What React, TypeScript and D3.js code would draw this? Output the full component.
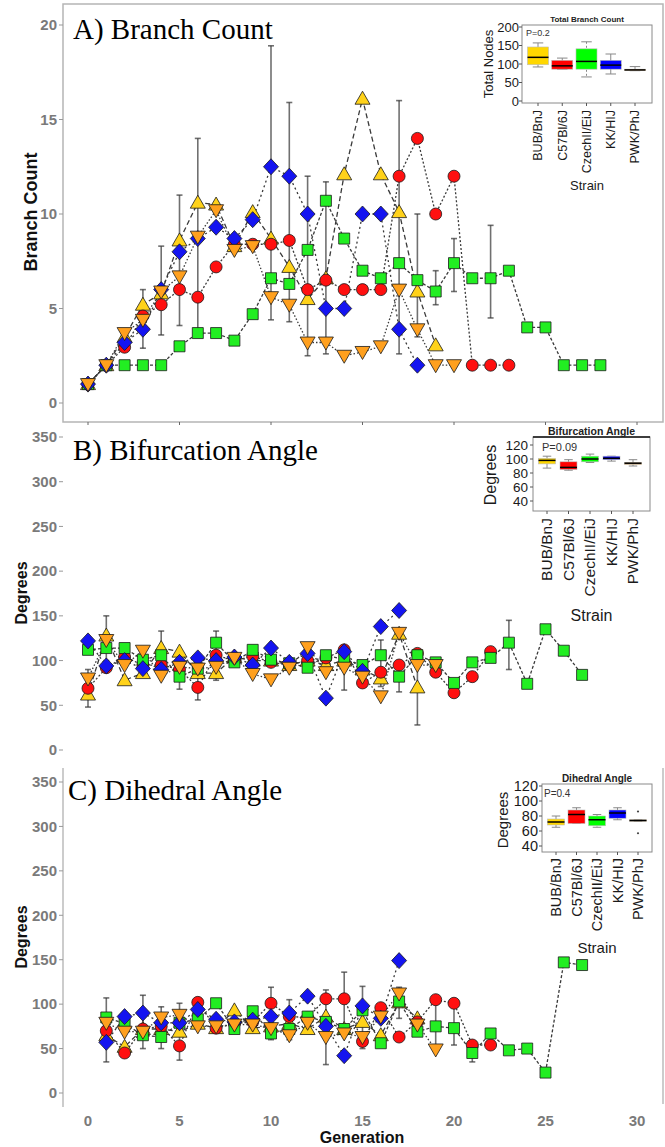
import React from 'react';
import * as d3 from 'd3';

const strains = ['BUB/BnJ', 'C57Bl/6J', 'CzechII/EiJ', 'KK/HIJ', 'PWK/PhJ'];
const genTicks = [0, 5, 10, 15, 20, 25, 30];

// A) Branch count per generation (index = generation)
const branchBUB = [1, 2, 3.5, 5.2, 5.8, 8.6, 10.6, 10.5, 8.3, 10.1, 8.7, 7.2, 5.5, 6.6, 12.1, 16.1, 12.1, 10.1, 5.9, 3.05];
const branchC57 = [1, 2, 2.95, 4.6, 5.2, 6.0, 5.6, 7.2, 8.4, 8.4, 8.4, 8.6, 6.0, 6.5, 6.0, 6.0, 6.0, 12, 14, 10, 12, 2, 2, 2];
const branchCZ = [1, 2, 2, 2, 2, 3, 3.7, 3.7, 3.3, 4.7, 6.6, 6.3, 8.1, 10.7, 8.7, 7.0, 6.6, 7.4, 6.5, 5.9, 7.4, 6.6, 6.6, 7.0, 4, 4, 2, 2, 2];
const branchKK = [1, 2, 3.2, 3.9, 6, 8, 8.7, 9.3, 8.7, 9.7, 12.5, 12, 10, 5, 5, 10, 10, 3.9, 2];
const branchPWK = [1, 2, 3.7, 4.4, 5.9, 6.7, 8.8, 10.2, 8.1, 8.3, 5.6, 5.2, 3.2, 3.2, 2.5, 2.7, 3.0, 6.0, 3.9, 2, 2];
// error bars: [strain index, generation, low, high]
const branchErr = [
  [0, 3, 2.9, 6], [1, 4, 3.6, 8.3], [0, 5, 4.1, 11], [0, 6, 3.7, 14], [3, 10, 4.4, 18.9],
  [3, 11, 4.3, 15.9], [3, 12, 2.5, 12], [4, 13, 2.6, 11.7], [0, 17, 2.6, 16], [1, 18, 3.5, 10],
  [2, 19, 5.2, 7], [2, 20, 5.9, 8.7], [2, 22, 4.5, 9.4],
];

// B) Bifurcation angle per generation
const bifBUB = [62, 128, 78, 86, 114, 110, 86, 86, 104, 100, 100, 95, 100, 95, 100, 90, 80, 130, 70];
const bifC57 = [69, 92, 104, 95, 95, 90, 70, 106, 100, 105, 98, 95, 100, 103, 112, 75, 87, 95, 108, 87, 64, 82, 110];
const bifCZ = [112, 114, 114, 101, 106, 82, 91, 120, 98, 112, 101, 97, 92, 106, 101, 95, 106, 82, 106, 98, 75, 98, 103, 120, 74, 135, 111, 84];
const bifKK = [122, 94, 100, 91, 90, 98, 103, 100, 104, 95, 114, 98, 108, 58, 110, 88, 138, 156];
const bifPWK = [80, 123, 95, 111, 83, 93, 91, 93, 103, 85, 79, 92, 115, 87, 92, 82, 60, 131, 95, 95];
const bifErr = [
  [1, 0, 48, 90], [4, 1, 100, 150], [0, 4, 100, 133], [2, 5, 68, 92], [1, 6, 56, 84],
  [2, 7, 78, 133], [4, 14, 67, 108], [1, 16, 71, 123], [2, 17, 65, 100], [0, 18, 28, 110], [2, 23, 90, 145],
];

// C) Dihedral angle per generation (starts at generation 1)
const dihBUB = [null, 65, 52, 72, 72, 69, 78, 73, 93, 73, 75, 78, 72, 86, 72, 80, 65, 102, 84];
const dihC57 = [null, 70, 45, 72, 75, 53, 102, 73, 78, 80, 101, 86, 85, 106, 106, 58, 96, 63, 80, 105, 101, 54, 54];
const dihCZ = [null, 85, 78, 65, 63, 79, 83, 101, 72, 92, 67, 72, 86, 80, 72, 93, 56, 103, 69, 75, 73, 45, 67, 48, 50, 23, 147, 144];
const dihKK = [null, 57, 86, 90, 79, 79, 94, 83, 80, 82, 86, 90, 109, 75, 42, 98, 84, 149];
const dihPWK = [null, 79, 69, 69, 85, 88, 75, 75, 77, 77, 73, 65, 79, 63, 67, 63, 86, 112, 77, 49];
const dihErr = [
  [3, 1, 35, 107], [0, 3, 50, 110], [2, 4, 50, 97], [1, 5, 37, 101], [1, 10, 60, 119],
  [3, 11, 60, 105], [4, 13, 32, 116], [1, 14, 66, 136], [0, 15, 50, 120], [0, 17, 84, 119],
  [2, 19, 49, 105], [2, 20, 54, 96], [2, 21, 35, 55],
];

// inset boxplots: [low whisker, q1, median, q3, high whisker]
const branchBox = [[92, 98, 118, 146, 157], [86, 86, 95, 110, 116], [65, 86, 107, 141, 160], [73, 86, 97, 110, 127], [82, 82, 84, 86, 93]];
const bifBox = [[87, 93, 98, 101, 104], [84, 85, 88, 96, 99], [95, 96, 100, 104, 107], [97, 99, 101, 104, 104], [90, 92, 94, 95, 99]];
const dihBox = [[65, 68, 72, 76, 80], [70, 70, 82, 88, 91], [65, 67, 75, 80, 82], [75, 77, 84, 88, 91], [73, 73, 74, 75, 75]];
const dihOutliers = [[], [], [], [], [86, 57]];

const fills = ['#FFD21A', '#FF1010', '#22EE22', '#1414F0', '#FFA01E'];
const boxFills = ['#FFD700', '#FF0000', '#00FF00', '#0000FF', '#E8A33C'];
const dashes = ['5,3', '2,2', '3,2', '2,3', '1.5,2'];
const sans = "'Liberation Sans', Arial, sans-serif";
const serif = "'Liberation Serif', 'Times New Roman', serif";

const x = d3.scaleLinear().domain([0, 30]).range([88, 637]);

function markerPath(k: number, cx: number, cy: number) {
  switch (k) {
    case 0: return `M${cx},${cy - 7.5}L${cx + 7.5},${cy + 5.5}L${cx - 7.5},${cy + 5.5}Z`;
    case 1: return `M${cx - 6},${cy}a6,6 0 1,0 12,0a6,6 0 1,0 -12,0Z`;
    case 2: return `M${cx - 5.5},${cy - 5.5}h11v11h-11Z`;
    case 3: return `M${cx},${cy - 8}L${cx + 7.5},${cy}L${cx},${cy + 8}L${cx - 7.5},${cy}Z`;
    default: return `M${cx},${cy + 7.5}L${cx + 7.5},${cy - 5.5}L${cx - 7.5},${cy - 5.5}Z`;
  }
}

type TrendProps = {
  series: (number | null)[][];
  errs: number[][];
  y: d3.ScaleLinear<number, number>;
  ticks: number[];
  title: string;
  titleX: number;
  titleY: number;
  axisLabel: string;
  labelX: number;
  labelY: number;
  labelSize: number;
};

function TrendPanel({ series, errs, y, ticks, title, titleX, titleY, axisLabel, labelX, labelY, labelSize }: TrendProps) {
  const line = d3
    .line<number | null>()
    .defined((d) => d != null)
    .x((_, i) => x(i))
    .y((d) => y(d as number));
  return (
    <g>
      {ticks.map((t) => (
        <g key={t}>
          <line x1={59} x2={63} y1={y(t)} y2={y(t)} stroke="#999" />
          <text x={57} y={y(t)} dy="0.35em" textAnchor="end" fontFamily={sans} fontWeight="bold" fontSize={15} fill="#7a7a7a">{t}</text>
        </g>
      ))}
      <text transform={`translate(${labelX},${labelY}) rotate(-90)`} dy="0.35em" textAnchor="middle" fontFamily={sans} fontWeight="bold" fontSize={labelSize} fill="#111">{axisLabel}</text>
      <text x={titleX} y={titleY} fontFamily={serif} fontSize={29} fill="#000">{title}</text>
      {series.map((s, k) => (
        <path key={k} d={line(s) || ''} fill="none" stroke="#3a3a3a" strokeWidth={1.3} strokeDasharray={dashes[k]} />
      ))}
      {errs.map(([k, g, lo, hi], i) => (
        <g key={i} stroke="#333" strokeOpacity={0.7} strokeWidth={1.6}>
          <line x1={x(g)} x2={x(g)} y1={y(lo)} y2={y(hi)} />
          <line x1={x(g) - 3} x2={x(g) + 3} y1={y(lo)} y2={y(lo)} />
          <line x1={x(g) - 3} x2={x(g) + 3} y1={y(hi)} y2={y(hi)} />
        </g>
      ))}
      {series.map((s, k) =>
        s.map((v, i) =>
          v == null ? null : (
            <path key={`${k}-${i}`} d={markerPath(k, x(i), y(v))} fill={fills[k]} stroke="#1a1a1a" strokeWidth={0.8} />
          )
        )
      )}
    </g>
  );
}

type InsetProps = {
  box: number[][];
  outliers?: number[][];
  frame: [number, number, number, number];
  yDomain: [number, number];
  yRange: [number, number];
  ticks: number[];
  centers: [number, number];
  boxW: number;
  font: number;
  tickFont: number;
  tickEnd: number;
  title: string;
  titleY: number;
  titleSize: number;
  p: string;
  pX: number;
  pY: number;
  pSize: number;
  yLabel: string;
  yLabelX: number;
  yLabelY: number;
  catTop: number;
  strainY: number;
  darkTop?: boolean;
};

function BoxInset(props: InsetProps) {
  const { box, outliers, frame, yDomain, yRange, ticks, centers, boxW, font, tickFont, tickEnd, title, titleY, titleSize, p, pX, pY, pSize, yLabel, yLabelX, yLabelY, catTop, strainY, darkTop } = props;
  const [x0, x1, y0, y1] = frame;
  const y = d3.scaleLinear().domain(yDomain).range(yRange);
  const bx = d3.scalePoint<string>().domain(strains).range(centers);
  const midX = (x0 + x1) / 2;
  return (
    <g fontFamily={sans}>
      <rect x={x0} y={y0} width={x1 - x0} height={y1 - y0} fill="#fff" stroke="#8a8a8a" strokeWidth={1} />
      {darkTop && <line x1={x0} x2={x1} y1={y0} y2={y0} stroke="#111" strokeWidth={1.5} />}
      <text x={midX} y={titleY} textAnchor="middle" fontWeight="bold" fontSize={titleSize} fill="#222">{title}</text>
      <text x={pX} y={pY} fontSize={pSize} fill="#333">{p}</text>
      {ticks.map((t) => (
        <g key={t}>
          <line x1={x0 - 3} x2={x0} y1={y(t)} y2={y(t)} stroke="#555" />
          <text x={tickEnd} y={y(t)} dy="0.35em" textAnchor="end" fontSize={tickFont} fill="#1a1a1a">{t}</text>
        </g>
      ))}
      <text transform={`translate(${yLabelX},${yLabelY}) rotate(-90)`} dy="0.35em" textAnchor="middle" fontSize={font + 0.5} fill="#1a1a1a">{yLabel}</text>
      {strains.map((s, k) => {
        const cx = bx(s) as number;
        const [lo, q1, md, q3, hi] = box[k];
        return (
          <g key={s}>
            <line x1={cx} x2={cx} y1={y1} y2={y1 + 3} stroke="#555" />
            <line x1={cx} x2={cx} y1={y(hi)} y2={y(lo)} stroke="#888" strokeDasharray={k === 2 ? '2,2' : undefined} />
            <line x1={cx - boxW / 4} x2={cx + boxW / 4} y1={y(hi)} y2={y(hi)} stroke="#888" />
            <line x1={cx - boxW / 4} x2={cx + boxW / 4} y1={y(lo)} y2={y(lo)} stroke="#888" />
            <rect x={cx - boxW / 2} y={y(q3)} width={boxW} height={Math.max(y(q1) - y(q3), 1.5)} fill={boxFills[k]} stroke="#bbb" strokeWidth={0.6} />
            <line x1={cx - boxW / 2} x2={cx + boxW / 2} y1={y(md)} y2={y(md)} stroke="#000" strokeWidth={1.5} />
            {(outliers ? outliers[k] : []).map((o, j) => (
              <circle key={j} cx={cx} cy={y(o)} r={1.1} fill="#444" />
            ))}
            <text transform={`translate(${cx},${catTop}) rotate(-90)`} dy="0.35em" textAnchor="end" fontSize={font} fill="#1a1a1a">{s}</text>
          </g>
        );
      })}
      <text x={midX} y={strainY} textAnchor="middle" fontSize={font + 0.5} fill="#1a1a1a">Strain</text>
    </g>
  );
}

export default function App() {
  const yA = d3.scaleLinear().domain([0, 20]).range([403, 25]);
  const yB = d3.scaleLinear().domain([0, 350]).range([750, 437]);
  const yC = d3.scaleLinear().domain([0, 350]).range([1093, 782]);
  return (
    <svg width={665} height={1147} style={{ position: 'absolute', left: 0, top: 0, background: '#fff' }}>
      <rect x={0} y={0} width={665} height={1147} fill="#fff" />
      {/* frames */}
      <rect x={63} y={4} width={600} height={418} fill="none" stroke="#b5b5b5" strokeWidth={1.5} />
      {genTicks.map((g) => (
        <line key={g} x1={x(g)} x2={x(g)} y1={422} y2={425} stroke="#666" />
      ))}
      <line x1={63} x2={63} y1={768} y2={1107} stroke="#bbb" strokeWidth={1.5} />
      <line x1={663} x2={663} y1={768} y2={1104} stroke="#bbb" strokeWidth={1.5} />

      <TrendPanel series={[branchBUB, branchC57, branchCZ, branchKK, branchPWK]} errs={branchErr} y={yA} ticks={[0, 5, 10, 15, 20]}
        title="A) Branch Count" titleX={73} titleY={39} axisLabel="Branch Count" labelX={31} labelY={212} labelSize={18} />
      <TrendPanel series={[bifBUB, bifC57, bifCZ, bifKK, bifPWK]} errs={bifErr} y={yB} ticks={[0, 50, 100, 150, 200, 250, 300, 350]}
        title="B) Bifurcation Angle" titleX={73} titleY={460} axisLabel="Degrees" labelX={21} labelY={593} labelSize={16} />
      <TrendPanel series={[dihBUB, dihC57, dihCZ, dihKK, dihPWK]} errs={dihErr} y={yC} ticks={[0, 50, 100, 150, 200, 250, 300, 350]}
        title="C) Dihedral Angle" titleX={68} titleY={800} axisLabel="Degrees" labelX={21} labelY={937} labelSize={16} />

      {genTicks.map((g) => (
        <text key={g} x={x(g)} y={1126} textAnchor="middle" fontFamily={sans} fontWeight="bold" fontSize={15} fill="#7a7a7a">{g}</text>
      ))}
      <text x={362} y={1143} textAnchor="middle" fontFamily={sans} fontWeight="bold" fontSize={16} fill="#111">Generation</text>

      <BoxInset box={branchBox} frame={[522, 652, 25, 103]} yDomain={[0, 200]} yRange={[101, 27]} ticks={[0, 50, 100, 150, 200]}
        centers={[538, 635]} boxW={21} font={12.5} tickFont={13} tickEnd={519} title="Total Branch Count" titleY={22} titleSize={8}
        p="P=0.2" pX={526} pY={36} pSize={9} yLabel="Total Nodes" yLabelX={488} yLabelY={64} catTop={110} strainY={190} />
      <BoxInset box={bifBox} frame={[533, 650, 437, 511]} yDomain={[40, 120]} yRange={[501, 445]} ticks={[40, 60, 80, 100, 120]}
        centers={[547, 633]} boxW={17} font={15.5} tickFont={13.5} tickEnd={528} title="Bifurcation Angle" titleY={435} titleSize={10.5}
        p="P=0.09" pX={542} pY={451} pSize={11} yLabel="Degrees" yLabelX={490} yLabelY={475} catTop={518} strainY={621} darkTop />
      <BoxInset box={dihBox} outliers={dihOutliers} frame={[542, 652, 784, 852]} yDomain={[40, 120]} yRange={[846, 786]} ticks={[40, 60, 80, 100, 120]}
        centers={[556, 638]} boxW={17} font={14.5} tickFont={14.5} tickEnd={538} title="Dihedral Angle" titleY={782} titleSize={10}
        p="P=0.4" pX={544} pY={797} pSize={10} yLabel="Degrees" yLabelX={503} yLabelY={820} catTop={858} strainY={953} />
    </svg>
  );
}
